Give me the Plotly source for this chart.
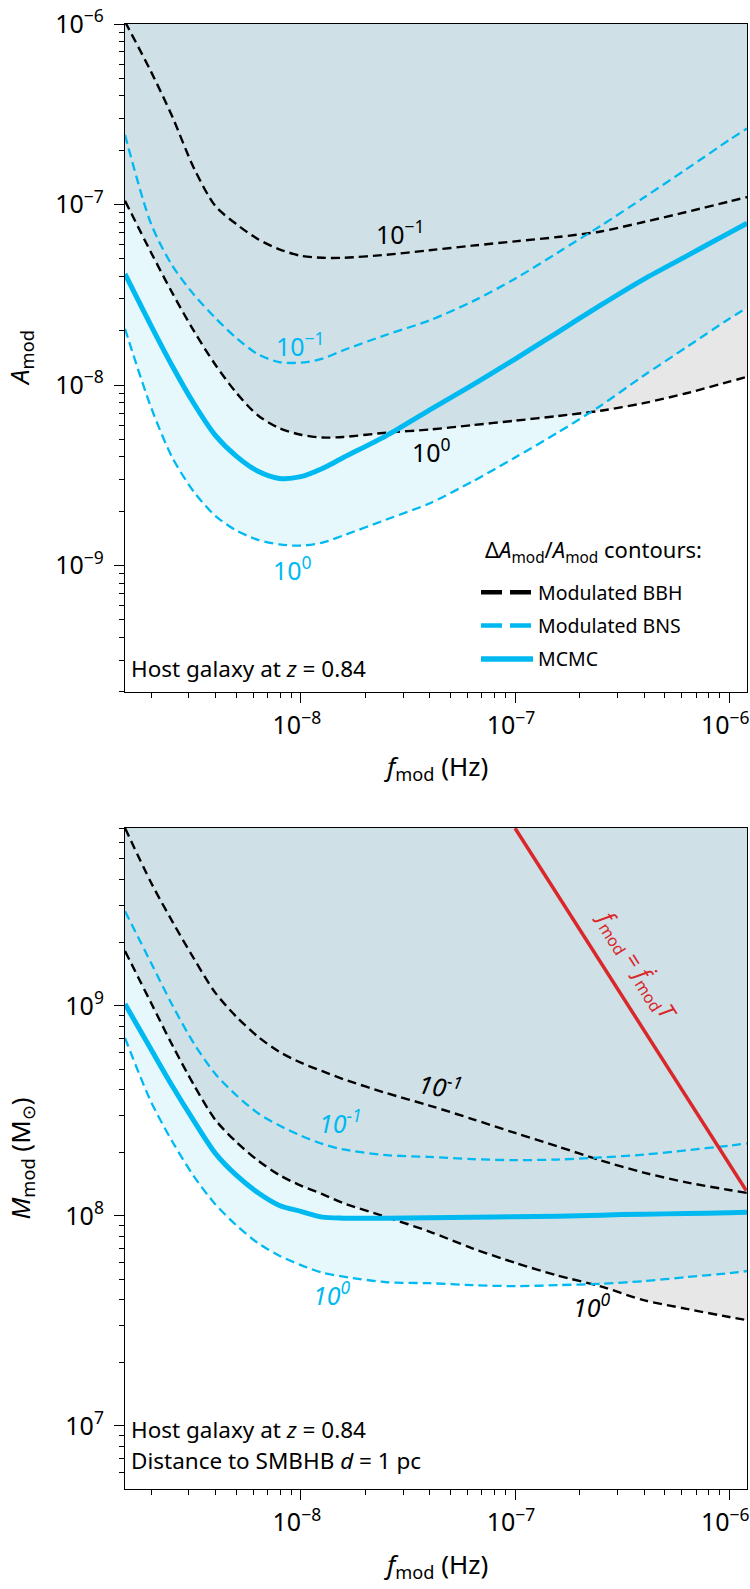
import numpy as np
import plotly.graph_objects as go
from plotly.subplots import make_subplots

# ---------------- data ----------------
# common modulation-frequency grid (Hz)
f_mod = [1.51e-9, 2.0e-9, 2.51e-9, 3.16e-9, 3.98e-9, 5.01e-9, 6.31e-9, 7.94e-9,
         1.0e-8, 1.26e-8, 1.58e-8, 2.51e-8, 3.98e-8, 6.31e-8, 1.0e-7, 1.58e-7,
         2.51e-7, 3.98e-7, 6.31e-7, 1.0e-6, 1.21e-6]

# top panel: A_mod contours
A_bbh_01 = [1.03e-6, 5.43e-7, 3.07e-7, 1.60e-7, 9.84e-8, 7.77e-8, 6.43e-8, 5.65e-8, 5.20e-8, 5.07e-8,
            5.07e-8, 5.27e-8, 5.58e-8, 5.92e-8, 6.25e-8, 6.61e-8, 7.09e-8, 8.00e-8, 9.09e-8, 1.04e-7, 1.10e-7]
A_bbh_1 = [1.05e-7, 5.41e-8, 3.24e-8, 2.00e-8, 1.30e-8, 9.03e-9, 6.78e-9, 5.77e-9, 5.31e-9, 5.12e-9,
           5.16e-9, 5.45e-9, 5.67e-9, 6.00e-9, 6.35e-9, 6.74e-9, 7.21e-9, 7.94e-9, 9.01e-9, 1.045e-8, 1.11e-8]
A_bns_01 = [2.43e-7, 7.8e-8, 4.59e-8, 3.18e-8, 2.36e-8, 1.82e-8, 1.48e-8, 1.34e-8, 1.33e-8, 1.40e-8,
            1.56e-8, 1.90e-8, 2.28e-8, 2.90e-8, 3.88e-8, 5.41e-8, 7.62e-8, 1.09e-7, 1.57e-7, 2.28e-7, 2.64e-7]
A_bns_1 = [2.05e-8, 7.50e-9, 3.97e-9, 2.57e-9, 1.89e-9, 1.56e-9, 1.39e-9, 1.31e-9, 1.29e-9, 1.34e-9,
           1.47e-9, 1.80e-9, 2.21e-9, 2.92e-9, 3.97e-9, 5.45e-9, 7.69e-9, 1.127e-8, 1.62e-8, 2.33e-8, 2.68e-8]
A_mcmc = [4.13e-8, 2.13e-8, 1.276e-8, 7.93e-9, 5.28e-9, 4.03e-9, 3.33e-9, 3.04e-9, 3.11e-9, 3.45e-9,
          3.97e-9, 5.25e-9, 7.27e-9, 1.0e-8, 1.394e-8, 1.96e-8, 2.77e-8, 3.85e-8, 5.18e-8, 6.97e-8, 7.87e-8]

# bottom panel: M_mod contours (solar masses)
M_bbh_01 = [7.02e9, 3.85e9, 2.52e9, 1.683e9, 1.155e9, 8.85e8, 7.12e8, 6.03e8, 5.36e8, 4.88e8,
            4.47e8, 3.84e8, 3.35e8, 2.89e8, 2.48e8, 2.14e8, 1.837e8, 1.607e8, 1.444e8, 1.328e8, 1.285e8]
M_bbh_1 = [1.822e9, 1.03e9, 6.50e8, 4.21e8, 2.87e8, 2.24e8, 1.832e8, 1.563e8, 1.393e8, 1.269e8,
           1.150e8, 9.86e7, 8.42e7, 7.01e7, 5.98e7, 5.20e7, 4.62e7, 3.97e7, 3.61e7, 3.30e7, 3.19e7]
M_bns_01 = [2.82e9, 1.597e9, 1.008e9, 6.64e8, 4.75e8, 3.74e8, 3.08e8, 2.69e8, 2.41e8, 2.20e8,
            2.07e8, 1.946e8, 1.908e8, 1.862e8, 1.842e8, 1.854e8, 1.897e8, 1.956e8, 2.05e8, 2.16e8, 2.21e8]
M_bns_1 = [7.02e8, 3.48e8, 2.26e8, 1.545e8, 1.137e8, 9.00e7, 7.41e7, 6.46e7, 5.83e7, 5.37e7,
           5.14e7, 4.83e7, 4.78e7, 4.68e7, 4.63e7, 4.68e7, 4.75e7, 4.89e7, 5.11e7, 5.34e7, 5.46e7]
M_mcmc = [1.019e9, 6.19e8, 4.15e8, 2.84e8, 1.99e8, 1.557e8, 1.288e8, 1.121e8, 1.05e8, 9.86e7,
          9.75e7, 9.75e7, 9.80e7, 9.86e7, 9.91e7, 9.97e7, 1.008e8, 1.019e8, 1.025e8, 1.036e8, 1.041e8]

# red line f_mod = fdot_mod * T
f_red = [1.0e-7, 1.2e-6]
M_red = [7.0e9, 1.32e8]

# axis ranges (log10)
A_range = [-9.70, -6.0]
M_range = [6.70, 9.846]

# ---------------- styling ----------------
C_DARK = "#cfe0e7"
C_CYANFILL = "#e6f8fc"
C_GREY = "#e7e7e7"
C_CYAN = "#00b9f1"
C_RED = "#d9272a"
FONT = "Noto Sans"

W, H = 750, 1589


def px_x(x):
    return x / W


def px_y(y):
    return 1 - y / H


def upper_envelope(x, a, b):
    lx, la, lb = np.log10(x), np.log10(a), np.log10(b)
    xs, ys = [], []
    for i in range(len(lx)):
        if i > 0:
            d0 = la[i - 1] - lb[i - 1]
            d1 = la[i] - lb[i]
            if d0 * d1 < 0:
                t = d0 / (d0 - d1)
                xs.append(lx[i - 1] + t * (lx[i] - lx[i - 1]))
                ys.append(la[i - 1] + t * (la[i] - la[i - 1]))
        xs.append(lx[i])
        ys.append(max(la[i], lb[i]))
    return list(10 ** np.array(xs)), list(10 ** np.array(ys))


fig = make_subplots(rows=2, cols=1)


def region_above(x, y, top, color, row):
    fig.add_trace(go.Scatter(x=x, y=[top] * len(x), mode="lines", line=dict(width=0, color=color),
                             showlegend=False, hoverinfo="skip"), row=row, col=1)
    fig.add_trace(go.Scatter(x=x, y=y, mode="lines", fill="tonexty", fillcolor=color,
                             line=dict(shape="spline", smoothing=0.8, width=0, color=color),
                             showlegend=False, hoverinfo="skip"), row=row, col=1)


panels = [
    (1, A_bbh_01, A_bbh_1, A_bns_01, A_bns_1, A_mcmc, A_range),
    (2, M_bbh_01, M_bbh_1, M_bns_01, M_bns_1, M_mcmc, M_range),
]
for row, bbh01, bbh1, bns01, bns1, mcmc, rng in panels:
    top = 10 ** (rng[1] + 0.3)
    region_above(f_mod, bns1, top, C_CYANFILL, row)
    region_above(f_mod, bbh1, top, C_GREY, row)
    ex, ey = upper_envelope(f_mod, bbh1, bns1)
    region_above(ex, ey, top, C_DARK, row)
    for yv, col, w, d in [(bbh01, "black", 2.4, "9px,5px"), (bbh1, "black", 2.4, "9px,5px"),
                          (bns01, C_CYAN, 2.3, "9px,5px"), (bns1, C_CYAN, 2.3, "9px,5px"),
                          (mcmc, C_CYAN, 5, "solid")]:
        fig.add_trace(go.Scatter(x=f_mod, y=yv, mode="lines",
                                 line=dict(color=col, width=w, dash=d, shape="spline", smoothing=0.8),
                                 showlegend=False, hoverinfo="skip"), row=row, col=1)

fig.add_trace(go.Scatter(x=f_red, y=M_red, mode="lines", line=dict(color=C_RED, width=3.5),
                         showlegend=False, hoverinfo="skip"), row=2, col=1)

# legend-only entries
for name, col, w, d, g in [("Modulated BBH", "black", 4.5, "21px,8px", "a"),
                           ("Modulated BNS", C_CYAN, 4.5, "21px,8px", "b"),
                           ("MCMC", C_CYAN, 5.5, "solid", "c")]:
    fig.add_trace(go.Scatter(x=[None], y=[None], mode="lines", name=name, legendgroup=g,
                             line=dict(color=col, width=w, dash=d)), row=1, col=1)

x0, x1 = 125, 747
top_y0, top_y1 = 24, 692
bot_y0, bot_y1 = 828, 1489

xr = [np.log10(f_mod[0]), np.log10(f_mod[-1])]
axis_common = dict(type="log", showgrid=False, zeroline=False, showline=True, linecolor="black",
                   linewidth=1.2, mirror=True, ticks="outside", ticklen=10, tickwidth=1.2,
                   tickcolor="black", dtick=1, exponentformat="power", automargin=False,
                   ticklabeloverflow="allow",
                   tickfont=dict(family=FONT, size=20, color="black"),
                   minor=dict(ticks="outside", ticklen=5, tickwidth=1, tickcolor="black", dtick="D1",
                              showgrid=False))

fig.update_xaxes(**axis_common, range=xr, domain=[px_x(x0), px_x(x1)], ticklabelstandoff=2,
                 ticklabelshift=-4)
fig.update_yaxes(**axis_common, ticklabelstandoff=6)
fig.update_yaxes(range=A_range, domain=[px_y(top_y1), px_y(top_y0)], row=1, col=1)
fig.update_yaxes(range=M_range, domain=[px_y(bot_y1), px_y(bot_y0)], row=2, col=1)


def ann(text, px, py, size=20, color="black", angle=0, xanchor="center", italic=False):
    fig.add_annotation(text=text, x=px_x(px), y=px_y(py), xref="paper", yref="paper",
                       showarrow=False, textangle=angle, xanchor=xanchor, yanchor="middle",
                       font=dict(family=FONT, size=size, color=color,
                                 style="italic" if italic else "normal"))


# axis titles
ann("<i>A</i><sub>mod</sub>", 20, (top_y0 + top_y1) / 2, size=26, angle=-90)
ann("<i>f</i><sub>mod</sub> (Hz)", (x0 + x1) / 2, 767, size=26)
ann("<i>M</i><sub>mod</sub> (M<sub>⊙</sub>)", 20, (bot_y0 + bot_y1) / 2, size=26, angle=-90)
ann("<i>f</i><sub>mod</sub> (Hz)", (x0 + x1) / 2, 1565, size=26)

# contour labels, top
ann("10<sup>−1</sup>", 400, 232, size=25)
ann("10<sup>−1</sup>", 300, 344, size=25, color=C_CYAN)
ann("10<sup>0</sup>", 431, 451, size=25)
ann("10<sup>0</sup>", 292, 568, size=25, color=C_CYAN)
# contour labels, bottom
ann("10<sup>−1</sup>", 440, 1085, size=25, italic=True, angle=10)
ann("10<sup>−1</sup>", 340, 1121, size=25, color=C_CYAN, italic=True)
ann("10<sup>0</sup>", 332, 1293, size=25, color=C_CYAN, italic=True)
ann("10<sup>0</sup>", 592, 1305, size=25, italic=True)

# red line label
ann("<i>f</i><sub>mod</sub> = <i>ḟ</i><sub>mod</sub><i>T</i>", 637, 965, size=23, color=C_RED, angle=57.6)

# host galaxy notes
ann("Host galaxy at <i>z</i> = 0.84", 129, 668, size=22.5, xanchor="left")
ann("Host galaxy at <i>z</i> = 0.84", 129, 1429, size=22.5, xanchor="left")
ann("Distance to SMBHB <i>d</i> = 1 pc", 129, 1460, size=22.5, xanchor="left")

# legend title
ann("Δ<i>A</i><sub>mod</sub>/<i>A</i><sub>mod</sub> contours:", 483, 551, size=22, xanchor="left")

fig.update_layout(
    width=W, height=H, margin=dict(l=0, r=0, t=0, b=0, autoexpand=False),
    paper_bgcolor="white", plot_bgcolor="white",
    font=dict(family=FONT, size=20, color="black"),
    legend=dict(x=px_x(476), y=px_y(573), xanchor="left", yanchor="top", bgcolor="rgba(0,0,0,0)",
                font=dict(family=FONT, size=19.5), itemwidth=52, tracegroupgap=5),
)

fig.write_html("out.html", config={"displayModeBar": False},
               post_script="document.body.style.margin='0';document.body.style.overflow='hidden';"
                           "document.documentElement.style.overflow='hidden';")
